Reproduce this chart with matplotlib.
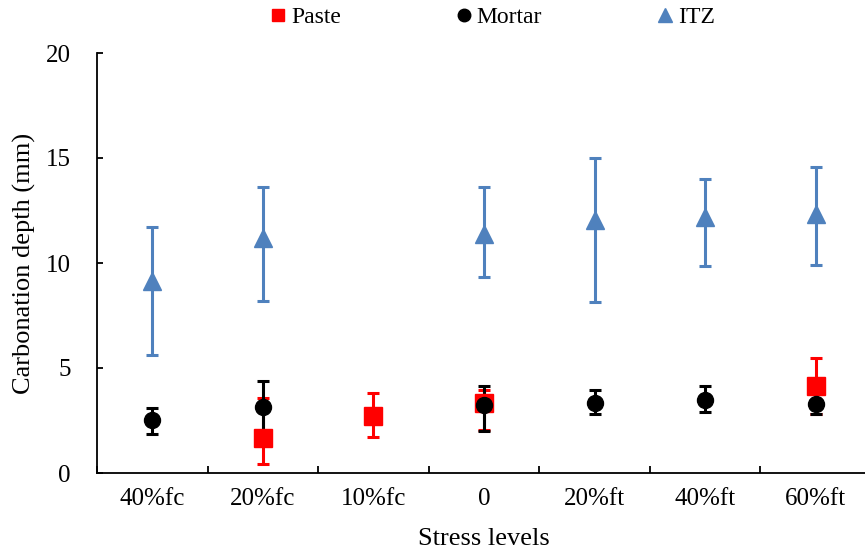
import numpy as np
import matplotlib
matplotlib.use("Agg")
import matplotlib.pyplot as plt
from matplotlib.lines import Line2D

plt.rcParams['font.family'] = ['Liberation Serif', 'DejaVu Serif']

categories = ["40%fc", "20%fc", "10%fc", "0", "20%ft", "40%ft", "60%ft"]
nan = np.nan

paste_mean = [nan, 1.69, 2.72, 3.32, nan, nan, 4.12]
paste_high = [nan, 3.55, 3.81, 3.97, nan, nan, 5.47]
paste_low = [nan, 0.43, 1.71, 2.04, nan, nan, 2.80]

mortar_mean = [2.52, 3.15, nan, 3.23, 3.34, 3.47, 3.28]
mortar_high = [3.10, 4.38, nan, 4.15, 3.94, 4.12, 3.76]
mortar_low = [1.87, 1.92, nan, 1.99, 2.80, 2.90, 2.80]

itz_mean = [9.12, 11.17, nan, 11.36, 12.05, 12.17, 12.31]
itz_high = [11.71, 13.62, nan, 13.62, 14.98, 14.01, 14.57]
itz_low = [5.62, 8.19, nan, 9.33, 8.14, 9.84, 9.90]

c_paste = "#FF0000"
c_mortar = "#000000"
c_itz = "#4F81BD"

W, H = 865, 554
fig = plt.figure(figsize=(W / 100, H / 100), dpi=100)
ax = fig.add_axes([97 / W, (H - 473) / H, 774 / W, 420 / H])

x = np.arange(len(categories))


def draw(mean, low, high, color, marker, ms, z):
    mean = np.array(mean, float)
    low = np.array(low, float)
    high = np.array(high, float)
    yerr = np.vstack([mean - low, high - mean])
    ax.errorbar(x, mean, yerr=yerr, fmt='none', ecolor=color,
                elinewidth=2.2, capsize=4.3, capthick=2.2, zorder=2)
    ax.plot(x, mean, ls='none', marker=marker, ms=ms, mec=color, mfc=color,
            zorder=z)


draw(paste_mean, paste_low, paste_high, c_paste, 's', 12.5, 3)
draw(mortar_mean, mortar_low, mortar_high, c_mortar, 'o', 11.5, 4)
draw(itz_mean, itz_low, itz_high, c_itz, '^', 12.5, 5)

ax.set_xlim(-0.5, len(categories) - 0.5)
ax.set_ylim(0, 20)
ax.set_yticks([0, 5, 10, 15, 20])
ax.set_xticks(x)
ax.set_xticklabels(categories)
ax.set_xticks(np.arange(len(categories) + 1) - 0.5, minor=True)

for s in ['top', 'right']:
    ax.spines[s].set_visible(False)
for s in ['left', 'bottom']:
    ax.spines[s].set_linewidth(1.3)

ax.tick_params(axis='x', which='major', length=0, labelsize=18, pad=11)
ax.tick_params(axis='x', which='minor', direction='in', length=4.8, width=1.3)
ax.tick_params(axis='y', which='major', direction='in', length=4.5, width=1.3,
               labelsize=18, pad=19)

ax.set_xlabel("Stress levels", fontsize=19, labelpad=13)
ax.set_ylabel("Carbonation depth (mm)", fontsize=19, labelpad=7)

handles = [
    Line2D([], [], ls='none', marker='s', color=c_paste, ms=9),
    Line2D([], [], ls='none', marker='o', color=c_mortar, ms=9),
    Line2D([], [], ls='none', marker='^', color=c_itz, ms=9.5),
]
fig.legend(handles, ["Paste", "Mortar", "ITZ"], loc='center',
           bbox_to_anchor=(493 / W, 1 - 17 / H), ncol=3, frameon=False,
           fontsize=17, handlelength=0.6, handletextpad=0.25,
           columnspacing=4.9, borderpad=0)

fig.savefig("out.png", dpi=100)
